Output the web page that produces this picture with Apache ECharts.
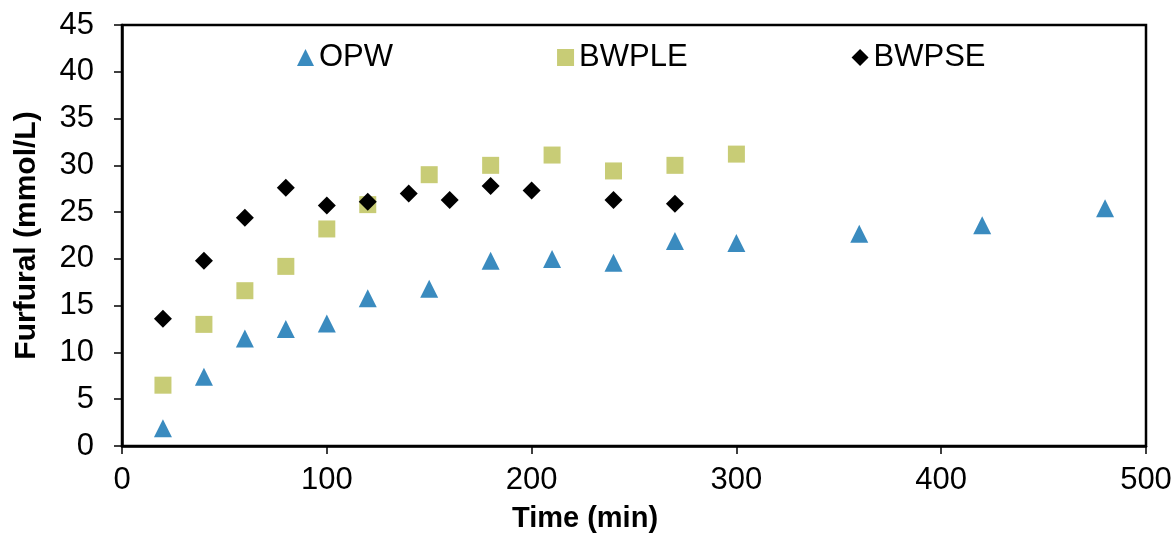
<!DOCTYPE html>
<html>
<head>
<meta charset="utf-8">
<script src="https://cdn.jsdelivr.net/npm/echarts@6/dist/echarts.min.js"></script>
<style>
  html, body { margin: 0; padding: 0; background: #fff; }
  #chart { width: 1175px; height: 533px; }
</style>
</head>
<body>
<div id="chart"></div>
<script>
// Furfural concentration over reaction time for three feedstocks
const opwTime   = [20, 40, 60, 80, 100, 120, 150, 180, 210, 240, 270, 300, 360, 420, 480];
const opwValue  = [1.9, 7.4, 11.5, 12.5, 13.1, 15.8, 16.8, 19.8, 20.0, 19.6, 21.9, 21.7, 22.7, 23.6, 25.4];

const bwpleTime  = [20, 40, 60, 80, 100, 120, 150, 180, 210, 240, 270, 300];
const bwpleValue = [6.5, 13.0, 16.6, 19.2, 23.2, 25.8, 29.0, 30.0, 31.1, 29.4, 30.0, 31.2];

const bwpseTime  = [20, 40, 60, 80, 100, 120, 140, 160, 180, 200, 240, 270];
const bwpseValue = [13.6, 19.8, 24.4, 27.6, 25.7, 26.1, 27.0, 26.3, 27.8, 27.3, 26.3, 25.9];

const seriesNames = ['OPW', 'BWPLE', 'BWPSE'];
const xTitle = 'Time (min)';
const yTitle = 'Furfural (mmol/L)';

const pairs = (xs, ys) => xs.map((x, i) => [x, ys[i]]);

const FONT = '"Liberation Sans", Arial, sans-serif';

const chart = echarts.init(document.getElementById('chart'), null, { renderer: 'canvas' });

chart.setOption({
  animation: false,
  backgroundColor: '#ffffff',
  grid: {
    left: 122, right: 29, top: 25, bottom: 87,
    outerBoundsMode: 'none',
    containLabel: false,
    show: true, borderColor: '#000', borderWidth: 2.5, backgroundColor: 'transparent'
  },
  legend: {
    left: 292, top: 37,
    itemWidth: 17, itemHeight: 17, itemGap: 164,
    textStyle: { fontFamily: FONT, fontSize: 31, color: '#000' },
    data: [
      { name: seriesNames[0], icon: 'triangle' },
      { name: seriesNames[1], icon: 'rect' },
      { name: seriesNames[2], icon: 'diamond' }
    ]
  },
  xAxis: {
    type: 'value', min: 0, max: 500, interval: 100,
    name: xTitle, nameLocation: 'middle', nameGap: 58,
    nameTextStyle: { fontFamily: FONT, fontSize: 29, fontWeight: 'bold', color: '#000', padding: [0, 98, 0, 0] },
    axisLine: { show: true, onZero: false, lineStyle: { color: '#000', width: 2.5 } },
    axisTick: { show: true, inside: false, length: 8, lineStyle: { color: '#000', width: 1.5 } },
    axisLabel: { fontFamily: FONT, fontSize: 31, color: '#000', margin: 19 },
    splitLine: { show: false }
  },
  yAxis: {
    type: 'value', min: 0, max: 45, interval: 5,
    name: yTitle, nameLocation: 'middle', nameGap: 80, nameRotate: 90,
    nameTextStyle: { fontFamily: FONT, fontSize: 30, fontWeight: 'bold', color: '#000' },
    axisLine: { show: true, onZero: false, lineStyle: { color: '#000', width: 2.5 } },
    axisTick: { show: true, inside: false, length: 8, lineStyle: { color: '#000', width: 1.5 } },
    axisLabel: { fontFamily: FONT, fontSize: 31, color: '#000', margin: 28 },
    splitLine: { show: false }
  },
  series: [
    {
      name: seriesNames[0], type: 'scatter', symbol: 'triangle', symbolSize: 18,
      itemStyle: { color: '#3A8BBF', opacity: 1 },
      data: pairs(opwTime, opwValue)
    },
    {
      name: seriesNames[1], type: 'scatter', symbol: 'rect', symbolSize: 17,
      itemStyle: { color: '#C8CC76', opacity: 1 },
      data: pairs(bwpleTime, bwpleValue)
    },
    {
      name: seriesNames[2], type: 'scatter', symbol: 'diamond', symbolSize: 18,
      itemStyle: { color: '#000000', opacity: 1 },
      data: pairs(bwpseTime, bwpseValue)
    }
  ]
});
</script>
</body>
</html>
